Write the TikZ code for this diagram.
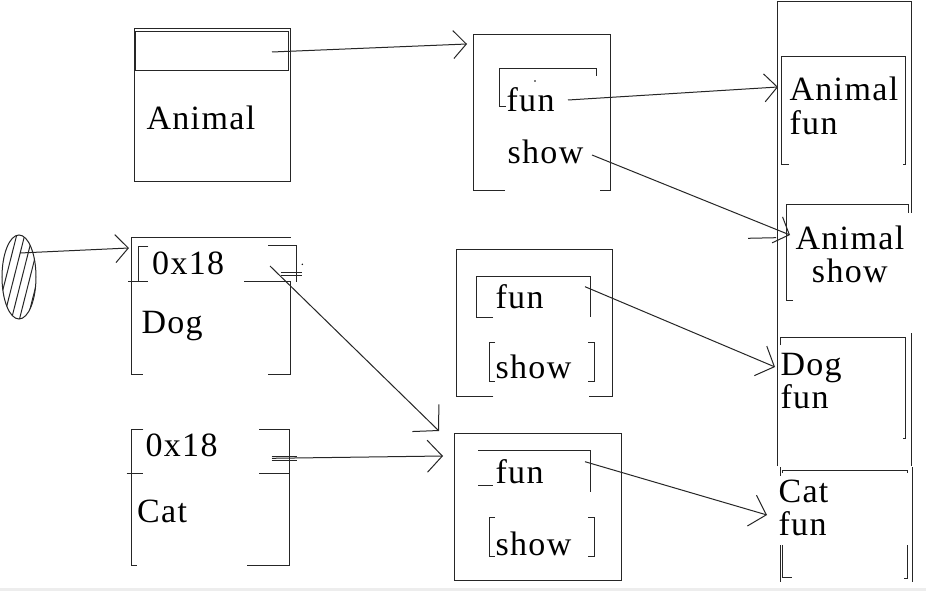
\documentclass[tikz,border=0pt]{standalone}
\usepackage{fontspec}
\setmainfont{Liberation Serif}[LetterSpace=4]
\usetikzlibrary{arrows.meta,shapes.geometric}
\begin{document}
\begin{tikzpicture}[x=1pt,y=-1pt,line width=1pt,
  lbl/.style={anchor=base west,inner sep=0pt,font=\fontsize{34}{38}\selectfont},
  two/.style={anchor=north west,inner sep=0pt,align=left,font=\fontsize{34}{33}\selectfont},
  ln/.style={draw=black!85,line width=1pt},
  sb/.style={-{Straight Barb[length=13pt,width=28pt]}},
  cb/.style={-{Straight Barb[length=15pt,width=32pt]}},
]
\useasboundingbox (0,0) rectangle (926,591);
\fill[white] (0,0) rectangle (926,591);
\fill[black!7] (0,588) rectangle (926,591);

% ---------- Animal object ----------
\draw[ln] (134,29) rectangle (290,181);
\draw[ln] (135,32) rectangle (288,71);
\node[lbl] (tAnimal) at (146,130) {Animal};
\coordinate (a1s) at (272,52);
\coordinate (a1e) at (467,44);

% ---------- Dog object ----------
\draw[ln] (131.7,237.3) -- (290.7,237.3);
\draw[ln] (131.7,237.3) -- (131.7,374) -- (143.3,374);
\draw[ln] (268.3,374) -- (290.7,374) -- (290.7,281.7) -- (244,281.7);
\draw[ln] (268.3,245) -- (296.7,245) -- (296.7,281.7);
\draw[ln] (148.3,246.7) -- (138.3,246.7) -- (138.3,281.7);
\draw[ln] (128.3,281.7) -- (148.3,281.7);
\draw[ln] (280.7,272.3) -- (301.7,272.3);
\draw[ln] (280.7,275.7) -- (301.7,275.7);
\fill (302.3,264.3) circle (0.8);
\node[lbl] (tDogAddr) at (151.7,274) {0x18};
\node[lbl] (tDog) at (141,333.3) {Dog};
\coordinate (dps) at (270,266);
\coordinate (dpe) at (439,431);

% ---------- Cat object ----------
\draw[ln] (143.3,429) -- (131,429) -- (131,565) -- (136.7,565);
\draw[ln] (126.7,473.3) -- (143.3,473.3);
\draw[ln] (259.3,429) -- (289.3,429) -- (289.3,565) -- (246.7,565);
\draw[ln] (259.3,473.3) -- (289.3,473.3);
\draw[ln] (271.7,456) -- (296.7,456);
\draw[ln] (271.7,460) -- (296.7,460);
\node[lbl] (tCatAddr) at (145,456) {0x18};
\node[lbl] (tCat) at (136.7,522.7) {Cat};
\coordinate (cps) at (272,458.3);
\coordinate (cpe) at (443,456);

% ---------- pointer blob ----------
\node[ellipse,draw=black!85,minimum width=34pt,minimum height=84pt,inner sep=0pt] (blob) at (19,277) {};
\begin{scope}
  \clip (19,277) ellipse [x radius=17,y radius=42];
  \foreach \k in {-3,...,4} \draw[ln] (\k*8+2,325) -- (\k*8+26,230);
\end{scope}
\coordinate (bs) at (20,253);
\coordinate (be) at (129,248);

% ---------- vtable 1 (Animal) ----------
\draw[ln] (505,190.7) -| (473,35) -| (610,190.7) -- (600,190.7);
\draw[ln] (506,107) -- (499,107) |- (596,69) -- (596,76);
\fill (535,81) circle (0.9);
\node[lbl] (v1fun) at (506,112) {fun};
\node[lbl] (v1show) at (507,163) {show};
\coordinate (f1s) at (568,100);
\coordinate (f1e) at (778,87);
\coordinate (s1s) at (592,155);
\coordinate (s1e) at (790,235);

% ---------- vtable 2 (Dog) ----------
\draw[ln] (493.3,396.7) -| (456.7,249.3) -| (612.3,396.7) -- (589.3,396.7);
\draw[ln] (493,317.3) -- (476.7,317.3) |- (590,276) -- (590,316.7);
\draw[ln] (495,342.7) -| (489.3,381.7) -- (495,381.7);
\draw[ln] (588,342.7) -| (594,381.7) -- (588,381.7);
\node[lbl] (v2fun) at (495,308.3) {fun};
\node[lbl] (v2show) at (495,378.3) {show};
\coordinate (f2s) at (585,286.7);
\coordinate (f2e) at (775,367);

% ---------- vtable 3 (Cat) ----------
\draw[ln] (454,433.3) rectangle (621.7,580);
\draw[ln] (478.3,450.7) -- (590,450.7) -- (590,491.7);
\draw[ln] (478.3,485) -- (493,485);
\draw[ln] (495,517.7) -| (489.3,556.7) -- (495,556.7);
\draw[ln] (588,517.7) -| (594,556.7) -- (588,556.7);
\node[lbl] (v3fun) at (495,483.3) {fun};
\node[lbl] (v3show) at (495,555) {show};
\coordinate (f3s) at (585,461.7);
\coordinate (f3e) at (767,515);

% ---------- function column ----------
\draw[ln] (777.7,466) |- (911.7,2) -- (911.7,213);
% Animal fun
\draw[ln] (789,164) -- (781.7,164) |- (905.7,56.7) -- (905.7,164) -- (903,164);
\node[two] (rAF) at (789,76) {Animal\\[1pt]fun};
% Animal show
\draw[ln] (793,300) -- (786.7,300) |- (908.3,204.7) -- (908.3,213);
\node[two,align=center] (rAS) at (795,225.5) {Animal\\[0pt]show};
\draw[ln] (748,238.3) -- (776,237.7);
% Dog fun
\draw[ln] (780.7,345) |- (905.7,337.3) -- (905.7,438) -- (903,438);
\draw[ln] (911,333) -- (911,466);
\node[two] (rDF) at (780,352.5) {Dog\\fun};
% Cat fun
\draw[ln] (780,467) -- (780,476);
\draw[ln] (782.7,473) |- (907.7,470) -- (907.7,473);
\draw[ln] (780,545) -- (780,581.7);
\draw[ln] (782.7,545) -- (782.7,577) -- (791.7,577);
\draw[ln] (907.7,545) -- (907.7,578) -- (904,578);
\draw[ln] (912.7,467) -- (912.7,582);
\node[two] (rCF) at (778,479) {Cat\\fun};

% ---------- connectors ----------
\draw[ln,sb] (a1s) -- (a1e);
\draw[ln,sb] (bs) -- (be);
\draw[ln,-{Straight Barb[length=18pt,width=38pt]}] (dps) -- (dpe);
\draw[ln,cb] (cps) -- (cpe);
\draw[ln,sb] (f1s) -- (f1e);
\draw[ln,sb] (s1s) -- (s1e);
\draw[ln,cb] (f2s) -- (f2e);
\draw[ln,cb] (f3s) -- (f3e);
\end{tikzpicture}
\end{document}
